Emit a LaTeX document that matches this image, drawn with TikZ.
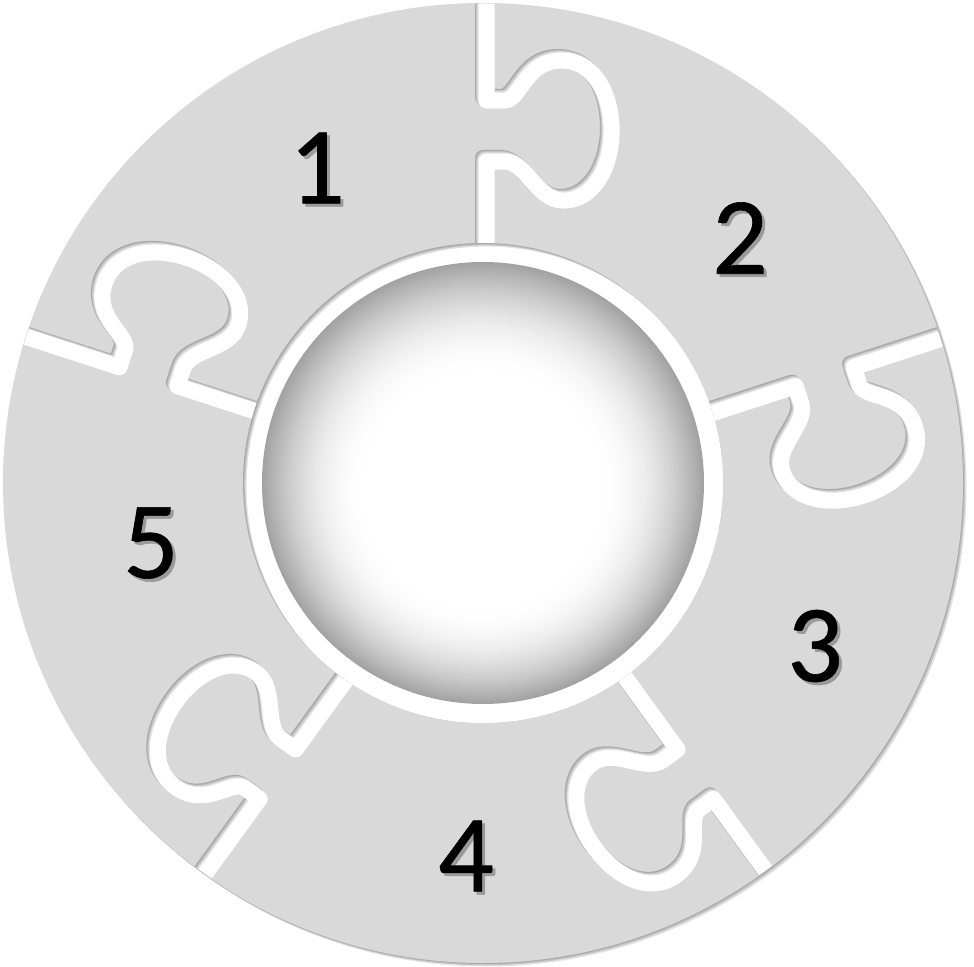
\documentclass[tikz,border=0pt]{standalone}
\usepackage{fontspec}
\setmainfont{Carlito}
\newfontfamily\digfont{Carlito}[FakeBold=0.6]
\definecolor{piece}{HTML}{D9D9D9}
\definecolor{shA}{HTML}{A9A9A9}
\definecolor{shB}{HTML}{C4C4C4}
\definecolor{shC}{HTML}{E2E2E2}
\definecolor{sph4}{HTML}{A2A2A2}
\definecolor{digsh}{HTML}{9A9A9A}
\newcommand\gapstroke[3]{%
  \draw[gapline, draw=#3, shift={#2}, rotate=#1]
    (0,495) -- (0,386) -- (18,386)
    .. controls (34,386) and (38,426) .. (75,426)
    .. controls (108,426) and (125,392) .. (125,356)
    .. controls (125,318) and (106,286) .. (77,286)
    .. controls (50,286) and (40,325) .. (18,325)
    -- (0,325) -- (0,225);}
\newcommand\shadowdigit[1]{%
  \makebox[0pt][l]{\raisebox{-3pt}[0pt][0pt]{\kern3pt\textcolor{digsh}{#1}}}#1}
\begin{document}
\begin{tikzpicture}[x=1pt,y=1pt,
  gapline/.style={line width=16pt, line join=round, line cap=butt},
  digit/.style={inner sep=0pt, font=\digfont\fontsize{110}{110}\selectfont}]
\useasboundingbox (-483,-483) rectangle (491,483);
\fill[white] (-483,-483) rectangle (491,483);
% outer disk with soft shadow
\fill[shC] (3.5,-3.5) circle (480);
\fill[shB] (2.2,-2.2) circle (480);
\fill[shA] (1,-1) circle (480);
\fill[piece] (0,0) circle (480);
% puzzle gaps
\begin{scope}
  \clip (0,0) circle (479.5);
  \foreach \k in {0,...,4} {\gapstroke{-72*\k}{(0,0)}{shA}}
  \foreach \k in {0,...,4} {\gapstroke{-72*\k}{(1.2,-1.2)}{shB}}
  \foreach \k in {0,...,4} {\gapstroke{-72*\k}{(2.4,-2.4)}{shC}}
  \foreach \k in {0,...,4} {\gapstroke{-72*\k}{(3.6,-3.6)}{white}}
\end{scope}
% central hole
\begin{scope}
  \clip (0,0) circle (240);
  \fill[shA] (0,0) circle (240);
  \fill[shB] (1.2,-1.2) circle (240);
  \fill[shC] (2.4,-2.4) circle (240);
  \fill[white] (3.6,-3.6) circle (240);
\end{scope}
% sphere (stacked discs imitating a radial gradient)
\foreach \i in {0,...,70} {
  \pgfmathsetmacro\p{100*(1-(1-\i/70)^2)}
  \pgfmathsetmacro\rr{221-105*\i/70}
  \pgfmathsetmacro\oy{-8*\i/70}
  \fill[white!\p!sph4] (0,\oy) circle (\rr);
}
% numbers
\foreach \n/\x/\y in {1/-166/315, 2/257/245, 3/332/-163, 4/-17/-373, 5/-332/-60} {
  \node[digit] (d\n) at (\x,\y) {\shadowdigit{\n}};
}
\end{tikzpicture}
\end{document}
